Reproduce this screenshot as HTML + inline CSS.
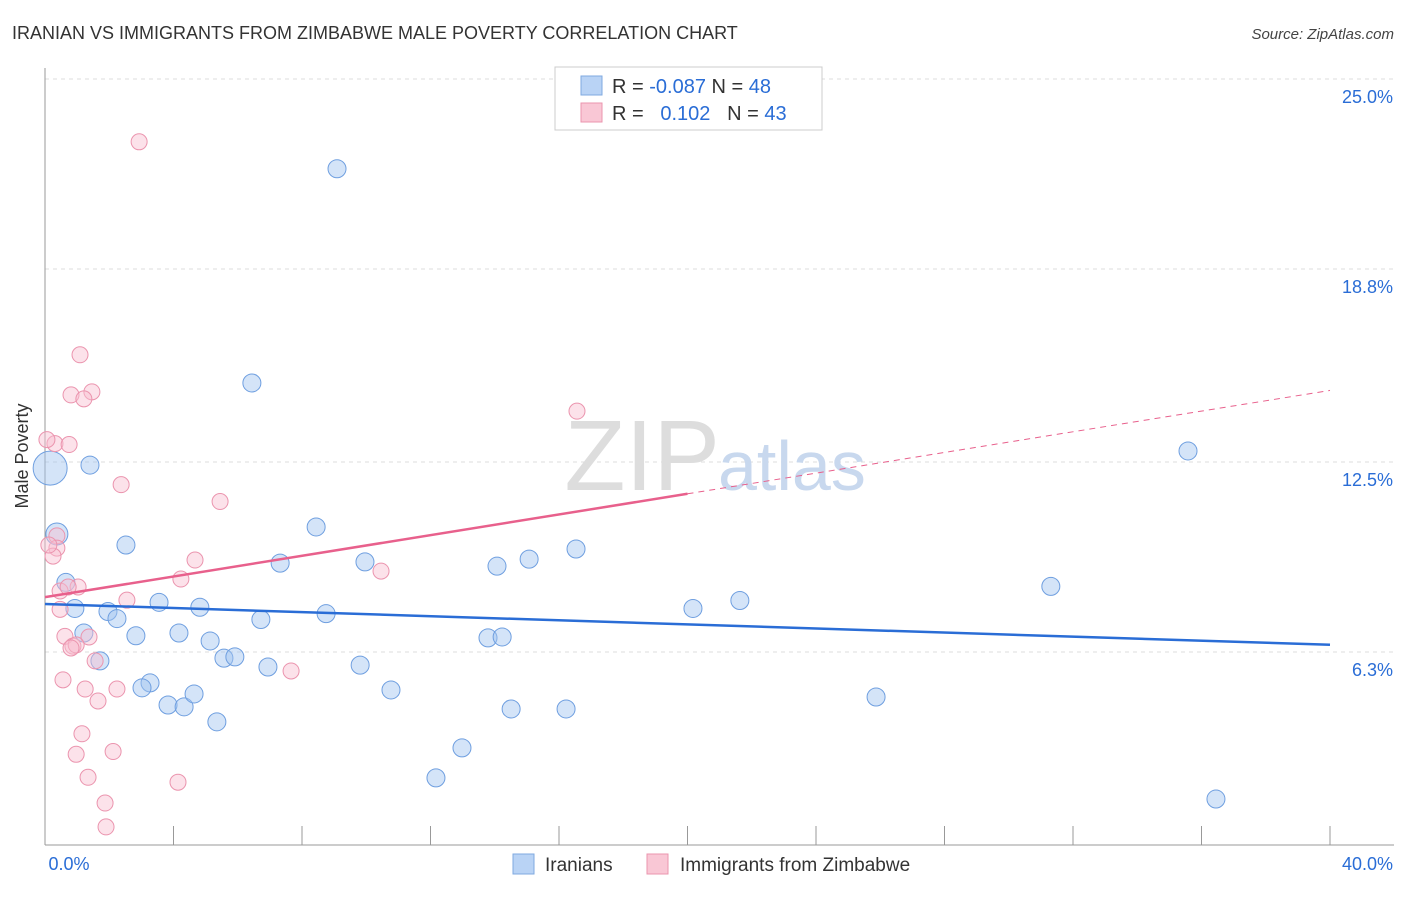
<!DOCTYPE html>
<html><head><meta charset="utf-8"><style>
body{margin:0;background:#fff;font-family:"Liberation Sans",sans-serif}
svg text{font-family:"Liberation Sans",sans-serif}
</style></head><body>
<svg width="1406" height="892">
<text x="12" y="39" font-size="18" fill="#333">IRANIAN VS IMMIGRANTS FROM ZIMBABWE MALE POVERTY CORRELATION CHART</text>
<text x="1394" y="39" font-size="15" fill="#444" font-style="italic" text-anchor="end">Source: ZipAtlas.com</text>
<g id="grid"></g>
<g id="axes"></g>
<text x="720" y="490" font-size="100" fill="#ddd" text-anchor="end" font-family="Liberation Serif">ZIP</text>
<text x="718" y="490" font-size="70" fill="#c8d8ee">atlas</text>
<text x="28" y="456" font-size="18" fill="#333" text-anchor="middle" transform="rotate(-90 28 456)">Male Poverty</text>
<g id="pts"></g>
<g id="lines"></g>
<rect x="555" y="67" width="267" height="63" fill="#fff" stroke="#ccc"/>
<rect x="581" y="76" width="21" height="19" fill="#b9d3f5" stroke="#7fa9e0"/>
<rect x="581" y="103" width="21" height="19" fill="#f9c7d5" stroke="#eb94ae"/>
<text x="612" y="93" font-size="20" fill="#333">R = <tspan fill="#2a6dd6">-0.087</tspan>   N = <tspan fill="#2a6dd6">48</tspan></text>
<text x="612" y="120" font-size="20" fill="#333" xml:space="preserve">R =   <tspan fill="#2a6dd6">0.102</tspan>   N = <tspan fill="#2a6dd6">43</tspan></text>
<rect x="513" y="854" width="21" height="20" fill="#b9d3f5" stroke="#7fa9e0"/>
<text x="545" y="871" font-size="19" fill="#333">Iranians</text>
<rect x="647" y="854" width="21" height="20" fill="#f9c7d5" stroke="#eb94ae"/>
<text x="680" y="871" font-size="19" fill="#333">Immigrants from Zimbabwe</text>
</svg>
<script>
const yTicks=[25,18.8,12.5,6.3];
const yTickLabels=["25.0%","18.8%","12.5%","6.3%"];
const blueX=[9.09,6.44,1.40,0.37,2.52,8.44,7.32,9.96,14.07,15.07,16.53,0.65,3.55,4.82,0.93,1.96,2.24,6.72,8.75,1.21,2.83,4.17,5.14,13.79,14.23,5.57,5.91,1.71,6.94,9.81,3.27,3.02,3.83,4.33,4.64,10.77,14.51,16.22,5.35,12.98,12.17,20.17,21.63,31.31,35.58,25.87,36.45,0.16];
const blueY=[22.07,15.08,12.40,10.15,9.79,10.38,9.20,9.24,9.10,9.33,9.66,8.57,7.92,7.76,7.72,7.62,7.39,7.36,7.55,6.92,6.83,6.92,6.66,6.76,6.79,6.10,6.14,6.01,5.81,5.87,5.29,5.13,4.57,4.51,4.93,5.06,4.44,4.44,4.02,3.17,2.19,7.72,7.98,8.44,12.86,4.83,1.50,12.30];
const pinkX=[2.93,1.09,0.81,1.46,1.21,16.56,0.31,0.75,0.06,2.37,5.45,0.37,0.37,0.25,4.67,4.23,10.46,1.03,0.47,0.72,2.55,0.47,0.62,1.37,0.87,0.97,0.81,1.56,7.66,0.56,1.25,2.24,1.65,1.15,2.12,0.97,1.34,4.14,1.87,1.90,0.12];
const pinkY=[22.95,16.00,14.69,14.79,14.56,14.16,13.10,13.07,13.23,11.76,11.21,10.09,9.69,9.43,9.30,8.68,8.94,8.42,8.29,8.42,7.99,7.69,6.81,6.79,6.49,6.53,6.43,6.01,5.68,5.39,5.09,5.09,4.70,3.63,3.05,2.96,2.21,2.05,1.37,0.59,9.79];
const blueSizes=[9,9,9,11,9,9,9,9,9,9,9,9,9,9,9,9,9,9,9,9,9,9,9,9,9,9,9,9,9,9,9,9,9,9,9,9,9,9,9,9,9,9,9,9,9,9,9,17];
const pinkBig=8;
const NS="http://www.w3.org/2000/svg";
const X0=45,X1=1330;
function xs(v){return X0+v/40*(X1-X0);}
function ys(v){return 79+(25-v)*30.64;}
const grid=document.getElementById('grid'),axes=document.getElementById('axes'),pts=document.getElementById('pts'),lines=document.getElementById('lines');
function mk(tag,attrs,parent){const e=document.createElementNS(NS,tag);for(const k in attrs)e.setAttribute(k,attrs[k]);parent.appendChild(e);return e;}
yTicks.forEach((t,i)=>{
 const l=mk('line',{x1:X0,x2:1394,y1:ys(t),y2:ys(t),stroke:'#ddd','stroke-dasharray':'4,4'},grid);
 
 
 const tx=mk('text',{x:1393,y:ys(t)+24,'font-size':18,fill:'#2a6dd6','text-anchor':'end'},grid);
 tx.textContent=yTickLabels[i];
 
 
});
const al=mk('line',{x1:X0,x2:X0,y1:68,y2:845,stroke:'#999'},axes);


const bl=mk('line',{x1:X0,x2:1394,y1:845,y2:845,stroke:'#999'},axes);


for(let i=0;i<=10;i++){
 const t=mk('line',{x1:xs(i*4),x2:xs(i*4),y1:826,y2:845,stroke:'#999'},axes);
 
 
}
[["0.0%",X0+24,'middle'],["40.0%",1393,'end']].forEach(a=>{
 const t=mk('text',{x:a[1],y:870,'font-size':18,fill:'#2a6dd6','text-anchor':a[2]},axes);
 t.textContent=a[0];
 
 
});
blueX.forEach((v,i)=>{
 const c=mk('circle',{cx:xs(v),cy:ys(blueY[i]),r:blueSizes[i],fill:'rgba(160,196,240,0.45)',stroke:'#6f9fe0','stroke-width':1},pts);
 
 
});
pinkX.forEach((v,i)=>{
 const c=mk('circle',{cx:xs(v),cy:ys(pinkY[i]),r:pinkBig,fill:'rgba(248,190,208,0.45)',stroke:'#eb94ae','stroke-width':1},pts);
 
 
});
// trend lines via least squares
function fit(X,Y){const n=X.length;let mx=0,my=0;X.forEach((x,i)=>{mx+=x;my+=Y[i];});mx/=n;my/=n;let sxy=0,sxx=0;X.forEach((x,i)=>{sxy+=(x-mx)*(Y[i]-my);sxx+=(x-mx)*(x-mx);});const b=sxy/sxx;return [my-b*mx,b];}
const bf=fit(blueX,blueY),pf=fit(pinkX,pinkY);
const b1=mk('line',{x1:xs(0),y1:ys(bf[0]),x2:xs(40),y2:ys(bf[0]+bf[1]*40),stroke:'#2a6dd6','stroke-width':2.5},lines);


const p1=mk('line',{x1:xs(0),y1:ys(pf[0]),x2:xs(20),y2:ys(pf[0]+pf[1]*20),stroke:'#e8608c','stroke-width':2.5},lines);


const p2=mk('line',{x1:xs(20),y1:ys(pf[0]+pf[1]*20),x2:xs(40),y2:ys(pf[0]+pf[1]*40),stroke:'#e8608c','stroke-width':1,'stroke-dasharray':'6,5'},lines);


</script>
</body></html>
